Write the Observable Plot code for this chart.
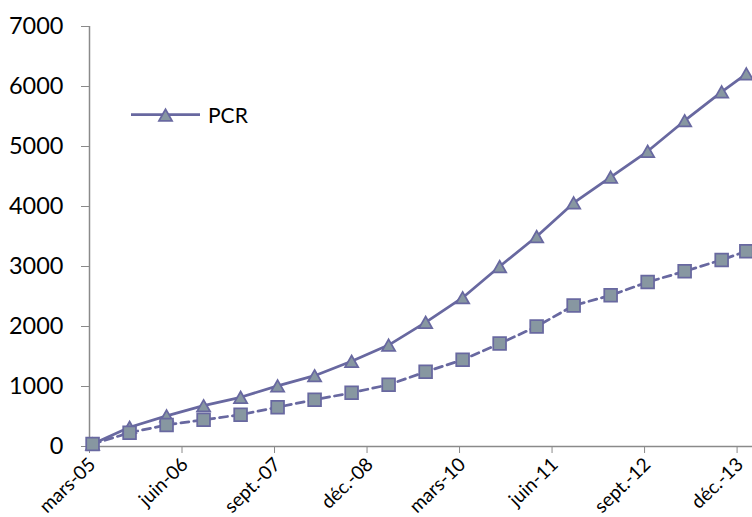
<!DOCTYPE html>
<html>
<head>
<meta charset="utf-8">
<script src="https://cdn.jsdelivr.net/npm/d3@7"></script>
<script src="https://cdn.jsdelivr.net/npm/@observablehq/plot@0.6"></script>
<style>
  body { margin: 0; background: #fff; }
  #chart { position: relative; width: 752px; height: 517px; font-family: Lato, sans-serif; }
  #legend { position: absolute; left: 131px; top: 101px; }
</style>
</head>
<body>
<div id="chart"></div>
<script>
// Half-yearly observations (month of the reading)
const dates = [
  "2005-03", "2005-09", "2006-03", "2006-09", "2007-03", "2007-09",
  "2008-03", "2008-09", "2009-03", "2009-09", "2010-03", "2010-09",
  "2011-03", "2011-09", "2012-03", "2012-09", "2013-03", "2013-09", "2014-01"
];
// PCR series (solid line, triangles)
const pcr = [
  40, 320, 510, 680, 820, 1010, 1180, 1420, 1690, 2070,
  2480, 3000, 3500, 4060, 4490, 4920, 5430, 5910, 6210
];
// Second series (dashed line, squares)
const serie2 = [
  40, 230, 360, 445, 530, 655, 780, 895, 1030, 1245,
  1445, 1715, 2000, 2350, 2520, 2740, 2920, 3110, 3255
];
// Axis ticks
const yTicks = [0, 1000, 2000, 3000, 4000, 5000, 6000, 7000];
const xTickMonths = [0, 15, 30, 45, 60, 75, 90, 105];
const xTickLabels = ["mars-05", "juin-06", "sept.-07", "déc.-08", "mars-10", "juin-11", "sept.-12", "déc.-13"];

const LINE = "#6868a0";
const FILL = "#8797a1";
const AXIS = "#8a8a8a";

// months elapsed since March 2005; each reading sits mid-month
const monthIndex = s => {
  const [y, m] = s.split("-").map(Number);
  return (y - 2005) * 12 + (m - 3);
};
const rows = dates.map((d, i) => ({ t: monthIndex(d) + 0.5, pcr: pcr[i], s2: serie2[i] }));

// upward triangle centred on its bounding box
const triangle = {
  draw(ctx, size) {
    const s = Math.sqrt(size);
    const h = s * 0.88;
    ctx.moveTo(0, -h / 2);
    ctx.lineTo(s / 2, h / 2);
    ctx.lineTo(-s / 2, h / 2);
    ctx.closePath();
  }
};

const chart = Plot.plot({
  width: 752,
  height: 517,
  marginLeft: 89,
  marginRight: 0,
  marginTop: 26,
  marginBottom: 71,
  style: { fontFamily: "Lato, sans-serif", background: "#fff", color: "#000", overflow: "visible" },
  x: { type: "linear", domain: [0, 107.5], label: null },
  y: { domain: [0, 7000], label: null },
  marks: [
    Plot.axisY({
      ticks: yTicks, tickSize: 8, tickPadding: 18, fontSize: 23.5,
      tickFormat: d => String(d), stroke: AXIS, fill: "#000", label: null
    }),
    // x tick marks
    Plot.axisX({
      ticks: xTickMonths, tickSize: 7, tickFormat: () => "", stroke: AXIS, label: null
    }),
    // x tick labels, rotated
    Plot.axisX({
      ticks: xTickMonths, tickSize: 0, tickPadding: 15, dx: 3, fontSize: 19, tickRotate: -44,
      tickFormat: d => xTickLabels[xTickMonths.indexOf(d)], fill: "#000", label: null
    }),
    Plot.ruleX([0], { stroke: AXIS, strokeWidth: 1.5 }),
    Plot.ruleY([0], { stroke: AXIS, strokeWidth: 1.5 }),
    Plot.line(rows, { x: "t", y: "pcr", stroke: LINE, strokeWidth: 2.75 }),
    Plot.dot(rows, { x: "t", y: "pcr", symbol: triangle, r: 7.4, fill: FILL, stroke: LINE, strokeWidth: 1.75 }),
    Plot.line(rows, { x: "t", y: "s2", stroke: LINE, strokeWidth: 2.75, strokeDasharray: "8,5" }),
    Plot.dot(rows, { x: "t", y: "s2", symbol: "square", r: 7.2, fill: FILL, stroke: LINE, strokeWidth: 1.75 })
  ]
});
document.getElementById("chart").appendChild(chart);

// legend: PCR entry
const legend = d3.select("#chart").append("svg")
  .attr("id", "legend").attr("width", 130).attr("height", 30);
legend.append("line").attr("x1", 0).attr("x2", 69).attr("y1", 13.5).attr("y2", 13.5)
  .attr("stroke", LINE).attr("stroke-width", 2.75);
legend.append("path")
  .attr("d", d3.symbol(triangle, Math.PI * 7.4 * 7.4)())
  .attr("transform", "translate(34.5,14)")
  .attr("fill", FILL).attr("stroke", LINE).attr("stroke-width", 1.75);
legend.append("text").attr("x", 77).attr("y", 21.5)
  .attr("font-family", "Lato, sans-serif").attr("font-size", 21).attr("fill", "#000")
  .text("PCR");
</script>
</body>
</html>
